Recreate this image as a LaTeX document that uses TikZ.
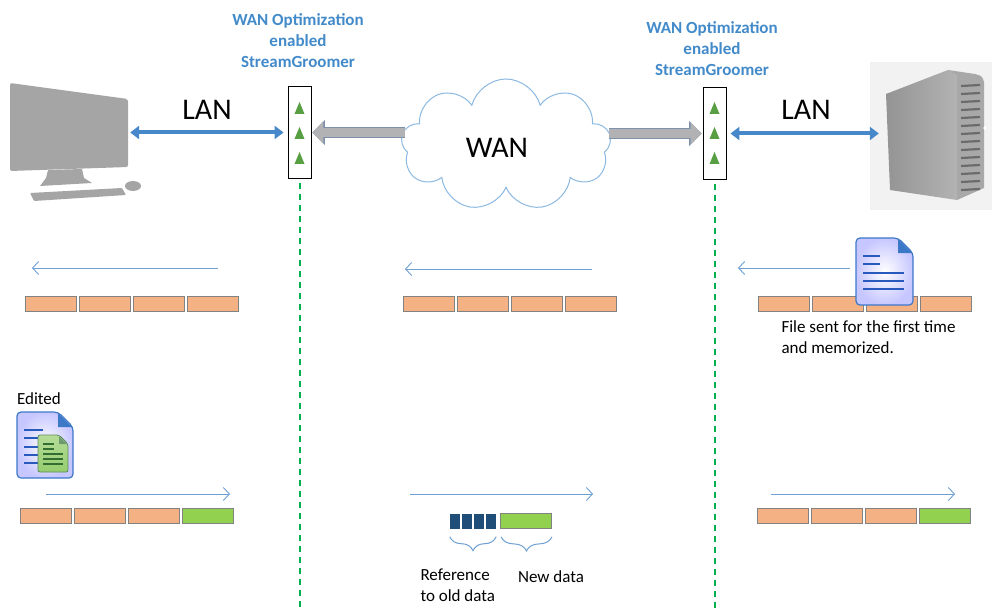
\documentclass[tikz,border=0pt]{standalone}
\usepackage{fontspec}
\setmainfont{Carlito}
\usepackage{tikz}
\usetikzlibrary{arrows.meta, positioning, shapes.symbols, decorations.pathreplacing}

\definecolor{lanblue}{RGB}{70,136,202}
\definecolor{titleblue}{RGB}{66,138,201}
\definecolor{flowblue}{RGB}{110,160,210}
\definecolor{cloudblue}{RGB}{140,185,225}
\definecolor{wangray}{RGB}{178,178,180}
\definecolor{wanedge}{RGB}{125,145,170}
\definecolor{segorange}{RGB}{244,177,131}
\definecolor{seggreen}{RGB}{146,208,80}
\definecolor{seggray}{RGB}{130,130,130}
\definecolor{refblue}{RGB}{31,78,121}
\definecolor{tapgreen}{RGB}{0,176,80}
\definecolor{ledgreen}{RGB}{88,158,66}
\definecolor{pcgray}{RGB}{165,165,165}
\definecolor{docedge}{RGB}{60,120,200}
\definecolor{docline}{RGB}{40,90,190}
\definecolor{docgreen}{RGB}{150,205,110}
\definecolor{docgreenline}{RGB}{50,110,50}

\begin{document}
\begin{tikzpicture}[x=1pt, y=-1pt,
  every node/.style={font=\fontsize{17}{21}\selectfont},
  bigtext/.style={font=\fontsize{30}{36}\selectfont},
  sgtitle/.style={text=titleblue, align=center, font=\bfseries\fontsize{17}{21}\selectfont},
  sgbox/.style={draw=black, line width=0.9pt, fill=white, minimum width=23, minimum height=92, inner sep=0},
  lanlink/.style={draw=lanblue, line width=4pt, {Triangle[length=9pt,width=13pt]}-{Triangle[length=9pt,width=13pt]}},
  wanlink/.style={draw=wangray, line width=9pt, -{Triangle[length=11pt,width=22pt]},
    preaction={draw=wanedge, line width=10.6pt, -{Triangle[length=12.5pt,width=24.5pt]}}},
  flow/.style={draw=flowblue, line width=0.9pt, -{Straight Barb[length=6pt,width=13pt]}},
  seg/.style={draw=seggray, line width=0.8pt, fill=segorange, minimum width=51, minimum height=15, inner sep=0},
  segnew/.style={seg, fill=seggreen},
  refseg/.style={fill=refblue, minimum width=10, minimum height=15, inner sep=0},
  tapline/.style={draw=tapgreen, line width=2pt, dash pattern=on 6pt off 5pt},
  bracket/.style={draw=flowblue, line width=1pt, decorate, decoration={brace, amplitude=14pt, aspect=0.5, mirror}}]
\useasboundingbox (0,0) rectangle (992,612);
\coordinate (bot) at (0,612);

% Desktop computer on the left
\fill[pcgray, rounded corners=2] (10,83) -- (128,99) -- (128,167) -- (10,171) -- cycle;
\fill[pcgray] (48,170) -- (82,169) -- (84,178) -- (92,183) -- (40,186) -- (46,178) -- cycle;
\fill[pcgray, rounded corners=1] (30,193) -- (122,188) -- (126,195) -- (34,201) -- cycle;
\fill[pcgray] (133,186) ellipse (8 and 5);
\node[minimum width=120, minimum height=10, inner sep=0] (pc) at (70,132) {};

% Server tower on the right
\node[fill=black!5, minimum width=122, minimum height=148, inner sep=0] (srv) at (931,136) {};
\shade[left color=black!42, right color=black!30] (886,94) -- (948,70) -- (957,76) -- (957,200) -- (890,190) -- cycle;
\fill[black!34] (948,70) -- (975,74) .. controls (982,76) .. (984,82) -- (984,188) -- (957,200) -- (957,76) -- cycle;
\foreach \y in {86,94,...,190}
  \draw[black!58, line width=2.2pt] (961,\y) -- (980,\y-1);
\fill[white] (985,128) circle (1.8);

% StreamGroomer boxes with their labels
\node[sgbox] (sgL) at (299.5,132.5) {};
\node[sgbox] (sgR) at (714.5,133.5) {};
\foreach \x in {299.5,714.5}
  \foreach \y in {108,133,158}
    \fill[ledgreen] (\x-5,\y+6) -- (\x,\y-6) -- (\x+5,\y+6) -- cycle;
\node[sgtitle] (tL) at (298,41) {WAN Optimization\\enabled\\StreamGroomer};
\node[sgtitle] (tR) at (712,49) {WAN Optimization\\enabled\\StreamGroomer};

% WAN cloud
\node[cloud, cloud puffs=9, aspect=1.6, draw=cloudblue, line width=1pt, fill=white,
      minimum width=210, minimum height=132, inner sep=0] (wan) at (506,145) {};
\node[bigtext] (wanlabel) at (497,148) {WAN};

% links
\draw[lanlink] (pc.east |- sgL.west) -- ([xshift=-4]sgL.west);
\node[bigtext] (lanL) at (207,110) {LAN};
\draw[lanlink] ([xshift=4]sgR.east) -- ([xshift=9]srv.west |- sgR.east);
\node[bigtext] (lanR) at (806,110) {LAN};
\draw[wanlink] ([xshift=3]wan.west |- sgL.east) -- ([xshift=1]sgL.east);
\draw[wanlink] ([xshift=-1]wan.east |- sgR.west) -- ([xshift=-1]sgR.west);

% tap lines down the page
\draw[tapline] ([yshift=-4]sgL.south) -- (sgL.south |- bot);
\draw[tapline] ([yshift=-4]sgR.south) -- (sgR.south |- bot);

% First transfer: file goes to the client
\coordinate (f1a) at (218,268); \coordinate (f1b) at (32,268);
\coordinate (f2a) at (592,269); \coordinate (f2b) at (405,269);
\coordinate (f3a) at (850,268); \coordinate (f3b) at (738,268);
\draw[flow] (f1a) -- (f1b);
\draw[flow] (f2a) -- (f2b);
\draw[flow] (f3a) -- (f3b);
\foreach \i in {1,...,4} {
  \node[seg] (a\i) at (51+54*\i-54,304) {};
  \node[seg] (b\i) at (429+54*\i-54,304) {};
  \node[seg] (c\i) at (784+54*\i-54,304) {};
}
% document icon (plain)
\begin{scope}[shift={(856,238)}]
  \shade[inner color=white, outer color=blue!22, draw=docedge, line width=1.2pt, rounded corners=4]
    (0,0) -- (42,0) -- (57,15) -- (57,67) -- (0,67) -- cycle;
  \fill[docedge] (42,1) -- (42,15) -- (56,15) -- cycle;
  \draw[docline, line width=2.6pt] (7,18) -- (24,18) (7,26) -- (24,26)
    (7,35) -- (48,35) (7,43) -- (48,43) (7,51) -- (48,51);
\end{scope}
\node[align=left, anchor=west] (note) at (778,337) {File sent for the first time\\and memorized.};

% Second transfer: edited file, only the change crosses the WAN
\node (edited) at (39,399) {Edited};
\begin{scope}[shift={(17,412)}]
  \shade[inner color=white, outer color=blue!22, draw=docedge, line width=1.2pt, rounded corners=4]
    (0,0) -- (41,0) -- (56,15) -- (56,66) -- (0,66) -- cycle;
  \fill[docedge] (41,1) -- (41,15) -- (55,15) -- cycle;
  \draw[docline, line width=2.4pt] (7,18) -- (26,18) (7,26) -- (26,26)
    (7,35) -- (26,35) (7,43) -- (26,43) (7,51) -- (26,51);
  \shade[top color=docgreen!70, bottom color=docgreen, draw=docgreenline!80, line width=0.8pt, rounded corners=2]
    (21,23) -- (42,23) -- (51,32) -- (51,60) -- (21,60) -- cycle;
  \fill[docgreenline!70] (42,24) -- (42,32) -- (50,32) -- cycle;
  \draw[docgreenline, line width=1.3pt] (26,32) -- (37,32) (26,37) -- (37,37)
    (26,42) -- (46,42) (26,47) -- (46,47) (26,52) -- (46,52);
\end{scope}
\coordinate (g1a) at (46,494);  \coordinate (g1b) at (230,494);
\coordinate (g2a) at (410,494); \coordinate (g2b) at (593,494);
\coordinate (g3a) at (771,494); \coordinate (g3b) at (955,494);
\draw[flow] (g1a) -- (g1b);
\draw[flow] (g2a) -- (g2b);
\draw[flow] (g3a) -- (g3b);
\foreach \i in {1,...,3} {
  \node[seg] (d\i) at (46+54*\i-54,516) {};
  \node[seg] (e\i) at (783+54*\i-54,516) {};
}
\node[segnew] (d4) at (208,516) {};
\node[segnew] (e4) at (945,516) {};
\foreach \i in {1,...,4}
  \node[refseg] (r\i) at (443+12*\i,521) {};
\node[segnew] (n1) at (526,521) {};
\draw[bracket] ([yshift=-8]r1.south west) -- ([yshift=-8]r4.south east);
\node[anchor=north west, align=left] (reflabel) at (417,565) {Reference\\to old data};
\draw[bracket] ([yshift=-8,xshift=1]n1.south west) -- ([yshift=-8]n1.south east);
\node (newlabel) at (551,577) {New data};
\end{tikzpicture}
\end{document}
